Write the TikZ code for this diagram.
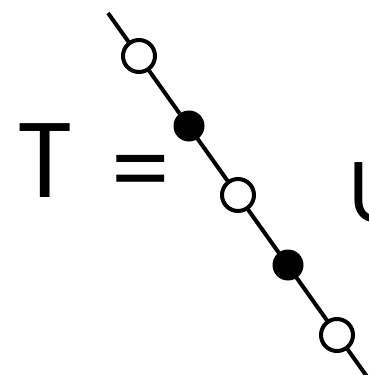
\documentclass[tikz,border=0pt]{standalone}
\usepackage{fontspec}
\setmainfont{Poppins}
\usetikzlibrary{positioning}

\begin{document}
\begin{tikzpicture}[x=1pt, y=-1pt,
  open/.style={circle, draw=black, line width=4pt, fill=white, minimum size=32pt, inner sep=0pt},
  full/.style={circle, fill=black, minimum size=31pt, inner sep=0pt},
  big/.style={inner sep=0pt, font=\fontsize{106}{106}\selectfont},
  wire/.style={draw=black, line width=4pt}]
  \useasboundingbox (0,0) rectangle (368,375);
  \clip (0,0) rectangle (368,375);
  \coordinate (top) at (108,13);
  \coordinate (bot) at (373,385);
  \draw[wire] (top) -- (bot);
  \node[open] (o1) at (139,56) {};
  \node[full] (f1) at (189,126) {};
  \node[open] (o2) at (238,195) {};
  \node[full] (f2) at (288,265) {};
  \node[open] (o3) at (337,335) {};
  \node[big, anchor=base] (tee) at (45,197) {T};
  \node[inner sep=0pt, anchor=center, font=\fontsize{92}{92}\selectfont] (eq) at (141,179) {=};
  \node[inner sep=0pt, anchor=base west, font=\fontsize{86}{86}\selectfont] (you) at (348,222) {U};
\end{tikzpicture}
\end{document}
